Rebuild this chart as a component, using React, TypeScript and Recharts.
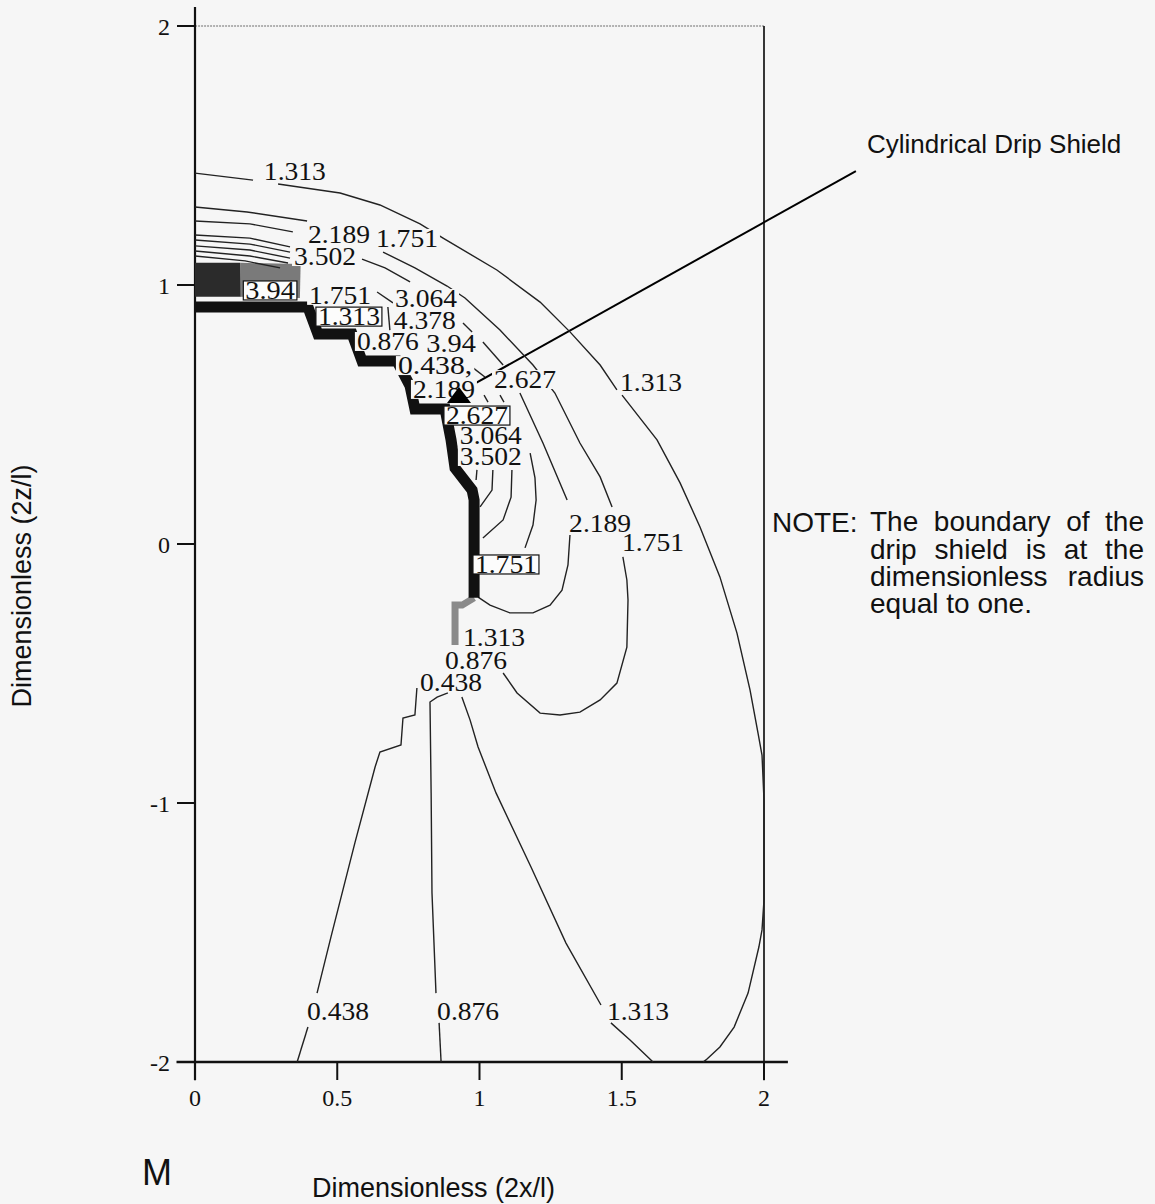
import React from "react";
import { ComposedChart, Scatter, XAxis, YAxis, ReferenceLine } from "recharts";

type Pt = { x: number; y: number };
const toPts = (rows: number[][]): Pt[] => rows.map(([x, y]) => ({ x, y }));

const BG = "#f6f6f6";
const INK = "#222";
const SERIF = "'Liberation Serif', 'Times New Roman', serif";
const SANS = "'Liberation Sans', Arial, sans-serif";

const xTicks = [0, 0.5, 1, 1.5, 2];
const yTicks = [-2, -1, 0, 1, 2];

// contour lines, x = 2x/l, y = 2z/l
const outer1313 = [
  [[0, 1.432], [0.204, 1.405]],
  [[0.292, 1.39], [0.51, 1.355], [0.65, 1.309], [0.791, 1.236], [0.872, 1.181], [1.061, 1.058], [1.213, 0.934], [1.318, 0.819], [1.424, 0.691], [1.483, 0.595]],
  [[1.501, 0.575], [1.624, 0.402], [1.705, 0.236], [1.775, 0.066], [1.845, -0.127], [1.905, -0.344], [1.951, -0.564], [1.979, -0.73], [1.993, -0.815], [2.0, -0.988], [2.0, -1.375], [1.993, -1.49], [1.982, -1.556], [1.944, -1.734], [1.895, -1.865], [1.845, -1.942], [1.796, -1.992], [1.786, -2.0]],
];

const c1751 = [
  [[0, 1.301], [0.183, 1.282], [0.394, 1.247]],
  [[0.661, 1.127], [0.773, 1.066], [0.886, 0.996], [0.949, 0.95], [1.072, 0.826], [1.188, 0.691], [1.265, 0.583], [1.353, 0.39], [1.424, 0.259], [1.466, 0.143]],
  [[1.504, -0.05], [1.518, -0.139], [1.522, -0.216], [1.518, -0.398], [1.483, -0.537], [1.424, -0.602], [1.353, -0.649], [1.283, -0.66], [1.213, -0.653], [1.132, -0.575], [1.083, -0.498]],
];

const c2189 = [
  [[1.012, 0.78], [1.083, 0.691]],
  [[1.142, 0.583], [1.223, 0.39], [1.308, 0.17]],
  [[1.318, 0.035], [1.311, -0.081], [1.29, -0.178], [1.248, -0.236], [1.188, -0.266], [1.107, -0.266], [1.037, -0.236], [0.995, -0.205]],
];

const innerLoops = [
  [[1.178, 0.351], [1.195, 0.255], [1.199, 0.17], [1.188, 0.073], [1.16, -0.015]],
  [[1.114, 0.286], [1.111, 0.181], [1.083, 0.093], [1.012, 0.023]],
  [[1.047, 0.286], [1.044, 0.208], [1.002, 0.143]],
  [[0.991, 0.286], [0.988, 0.247]],
];

const crownLines = [
  [[0, 1.247], [0.193, 1.236], [0.344, 1.205]],
  [[0, 1.193], [0.193, 1.181], [0.334, 1.147]],
  [[0, 1.174], [0.193, 1.158], [0.334, 1.127]],
  [[0, 1.151], [0.193, 1.135], [0.334, 1.104]],
  [[0, 1.131], [0.193, 1.112], [0.327, 1.085]],
  [[0, 1.112], [0.176, 1.093], [0.299, 1.066]],
  [[0.587, 1.1], [0.668, 1.066], [0.756, 1.012]],
  [[0.64, 0.973], [0.696, 0.931]],
  [[0.678, 0.915], [0.685, 0.826]],
  [[0.942, 0.853], [0.974, 0.819]],
  [[0.974, 0.683], [1.019, 0.645]],
  [[1.016, 0.575], [1.03, 0.548]],
  [[1.072, 0.575], [1.086, 0.548]],
];

const c1313Low = [
  [[0.938, -0.591], [0.967, -0.68], [0.995, -0.784], [1.058, -0.961], [1.181, -1.247], [1.304, -1.541], [1.427, -1.78]],
  [[1.462, -1.849], [1.529, -1.915], [1.61, -2.0]],
];

const c0876 = [
  [[0.889, -0.575], [0.851, -0.591], [0.826, -0.61], [0.83, -0.961], [0.833, -1.347], [0.847, -1.734]],
  [[0.858, -1.849], [0.865, -2.0]],
];

const c0438 = [
  [[0.78, -0.556], [0.773, -0.66], [0.731, -0.672], [0.724, -0.776], [0.65, -0.803], [0.633, -0.861], [0.562, -1.154], [0.478, -1.517], [0.429, -1.734]],
  [[0.397, -1.865], [0.359, -2.0]],
];

// drip shield outline (radius one) and the dense band at the crown
const shieldEdge = [[0, 0.915], [0.397, 0.915], [0.411, 0.873], [0.432, 0.811], [0.552, 0.811], [0.587, 0.707], [0.71, 0.707], [0.756, 0.61], [0.773, 0.521], [0.879, 0.521], [0.9, 0.402], [0.914, 0.293], [0.974, 0.208], [0.981, 0.17], [0.981, -0.208]];
const shieldFoot = [[0.981, -0.208], [0.939, -0.236], [0.914, -0.236], [0.914, -0.39]];
const crownDark = [[0, 1.02], [0.16, 1.02]];
const crownGrey = [[0.16, 1.02], [0.37, 1.015]];

const contourLabels = [
  { x: 0.351, y: 1.436, text: "1.313" },
  { x: 0.506, y: 1.193, text: "2.189" },
  { x: 0.745, y: 1.178, text: "1.751" },
  { x: 0.457, y: 1.108, text: "3.502" },
  { x: 0.264, y: 0.977, text: "3.94", boxed: true },
  { x: 0.51, y: 0.958, text: "1.751" },
  { x: 0.812, y: 0.946, text: "3.064" },
  { x: 0.541, y: 0.876, text: "1.313", boxed: true },
  { x: 0.808, y: 0.861, text: "4.378" },
  { x: 0.678, y: 0.78, text: "0.876" },
  { x: 0.9, y: 0.772, text: "3.94" },
  { x: 0.844, y: 0.687, text: "0.438," },
  { x: 0.875, y: 0.595, text: "2.189" },
  { x: 1.16, y: 0.633, text: "2.627" },
  { x: 1.603, y: 0.622, text: "1.313" },
  { x: 0.991, y: 0.494, text: "2.627", boxed: true },
  { x: 1.04, y: 0.417, text: "3.064" },
  { x: 1.04, y: 0.336, text: "3.502" },
  { x: 1.424, y: 0.077, text: "2.189" },
  { x: 1.61, y: 0.004, text: "1.751" },
  { x: 1.093, y: -0.081, text: "1.751", boxed: true },
  { x: 1.051, y: -0.363, text: "1.313" },
  { x: 0.988, y: -0.452, text: "0.876" },
  { x: 0.9, y: -0.537, text: "0.438" },
  { x: 0.503, y: -1.807, text: "0.438" },
  { x: 0.96, y: -1.807, text: "0.876" },
  { x: 1.557, y: -1.807, text: "1.313" },
];

const arrowTip = [{ x: 0.928, y: 0.568 }];
const pointer = [{ x: 0.931, y: 0.587 }, { x: 2.323, y: 1.44 }];

const thinLines = [...outer1313, ...c1751, ...c2189, ...innerLoops, ...crownLines, ...c1313Low, ...c0876, ...c0438];

const Blank = () => <g />;

const LabelShape = (props: any) => {
  const { cx, cy, payload } = props;
  const w = payload.text.length * 12.4;
  return (
    <g>
      <rect
        x={cx - w / 2 - 2}
        y={cy - 10}
        width={w + 4}
        height={19}
        fill={payload.boxed ? "#fcfcfc" : BG}
        stroke={payload.boxed ? "#111" : "none"}
        strokeWidth={1.2}
      />
      <text
        x={cx - w / 2}
        y={cy + 8}
        textLength={w}
        lengthAdjust="spacingAndGlyphs"
        fontFamily={SERIF}
        fontSize={25}
        fill="#111"
      >
        {payload.text}
      </text>
    </g>
  );
};

const ArrowHead = (props: any) => {
  const { cx, cy } = props;
  return <polygon points={`${cx},${cy - 10} ${cx - 12},${cy + 6} ${cx + 12},${cy + 6}`} fill="#000" />;
};

const XTick = (props: any) => (
  <text x={props.x} y={props.y} dy={18} textAnchor="middle" fontFamily={SERIF} fontSize={24} fill="#111">
    {props.payload.value}
  </text>
);

const YTick = (props: any) => (
  <text x={props.x} y={props.y} dy={8.5} textAnchor="end" fontFamily={SERIF} fontSize={24} fill="#111">
    {props.payload.value}
  </text>
);

const justified: React.CSSProperties = {
  position: "absolute",
  left: 870,
  width: 274,
  fontFamily: SANS,
  fontSize: 28,
  lineHeight: "28px",
  color: "#111",
  whiteSpace: "nowrap",
  textAlign: "justify",
  textAlignLast: "justify",
};

export default function App() {
  return (
    <div style={{ position: "absolute", left: 0, top: 0, width: 1155, height: 1204, background: BG, overflow: "hidden" }}>
      <ComposedChart width={1155} height={1204} margin={{ top: 26, right: 391, bottom: 102, left: 155 }}>
        <XAxis
          type="number"
          dataKey="x"
          domain={[0, 2]}
          ticks={xTicks}
          height={40}
          axisLine={false}
          tickSize={18}
          tickMargin={8}
          tickLine={{ stroke: "#111", strokeWidth: 2 }}
          tick={<XTick />}
        />
        <YAxis
          type="number"
          dataKey="y"
          domain={[-2, 2]}
          ticks={yTicks}
          width={40}
          axisLine={false}
          tickSize={18}
          tickMargin={7}
          tickLine={{ stroke: "#111", strokeWidth: 2 }}
          tick={<YTick />}
        />
        <ReferenceLine segment={[{ x: -0.063, y: 2 }, { x: 2, y: 2 }]} stroke="#9a9a9a" strokeWidth={1.5} strokeDasharray="2 1" ifOverflow="visible" />
        <ReferenceLine segment={[{ x: 2, y: 2 }, { x: 2, y: -2.07 }]} stroke="#222" strokeWidth={1.8} ifOverflow="visible" />
        <ReferenceLine segment={[{ x: 0, y: 2.073 }, { x: 0, y: -2.07 }]} stroke="#111" strokeWidth={2.2} ifOverflow="visible" />
        <ReferenceLine segment={[{ x: -0.065, y: -2 }, { x: 2.084, y: -2 }]} stroke="#111" strokeWidth={2.5} ifOverflow="visible" />

        <Scatter data={toPts(crownGrey)} line={{ stroke: "#7a7a7a", strokeWidth: 34 }} lineType="joint" shape={<Blank />} isAnimationActive={false} />
        <Scatter data={toPts(crownDark)} line={{ stroke: "#2b2b2b", strokeWidth: 34 }} lineType="joint" shape={<Blank />} isAnimationActive={false} />
        {thinLines.map((seg, i) => (
          <Scatter
            key={`c${i}`}
            data={toPts(seg)}
            line={{ stroke: INK, strokeWidth: 1.4 }}
            lineType="joint"
            shape={<Blank />}
            isAnimationActive={false}
          />
        ))}
        <Scatter data={toPts(shieldFoot)} line={{ stroke: "#8a8a8a", strokeWidth: 7 }} lineType="joint" shape={<Blank />} isAnimationActive={false} />
        <Scatter data={toPts(shieldEdge)} line={{ stroke: "#111", strokeWidth: 11 }} lineType="joint" shape={<Blank />} isAnimationActive={false} />
        <Scatter data={contourLabels} shape={<LabelShape />} isAnimationActive={false} />
        <ReferenceLine segment={pointer} stroke="#000" strokeWidth={2} ifOverflow="visible" />
        <Scatter data={arrowTip} shape={<ArrowHead />} isAnimationActive={false} />
      </ComposedChart>

      <svg width={1155} height={1204} style={{ position: "absolute", left: 0, top: 0, pointerEvents: "none" }}>
        <text x={867} y={153} fontFamily={SANS} fontSize={26} fill="#111">Cylindrical Drip Shield</text>
        <text x={772} y={532} fontFamily={SANS} fontSize={28} fill="#111">NOTE:</text>
        <text x={142} y={1185} fontFamily={SANS} fontSize={36} fill="#111">M</text>
        <text x={312} y={1197} fontFamily={SANS} fontSize={27} fill="#111">Dimensionless (2x/l)</text>
        <text transform="translate(31,586) rotate(-90)" textAnchor="middle" fontFamily={SANS} fontSize={27} fill="#111">
          Dimensionless (2z/l)
        </text>
      </svg>
      <div style={{ ...justified, top: 508 }}>The boundary of the</div>
      <div style={{ ...justified, top: 536 }}>drip shield is at the</div>
      <div style={{ ...justified, top: 563 }}>dimensionless radius</div>
      <div style={{ ...justified, top: 590, textAlignLast: "left" }}>equal to one.</div>
    </div>
  );
}
